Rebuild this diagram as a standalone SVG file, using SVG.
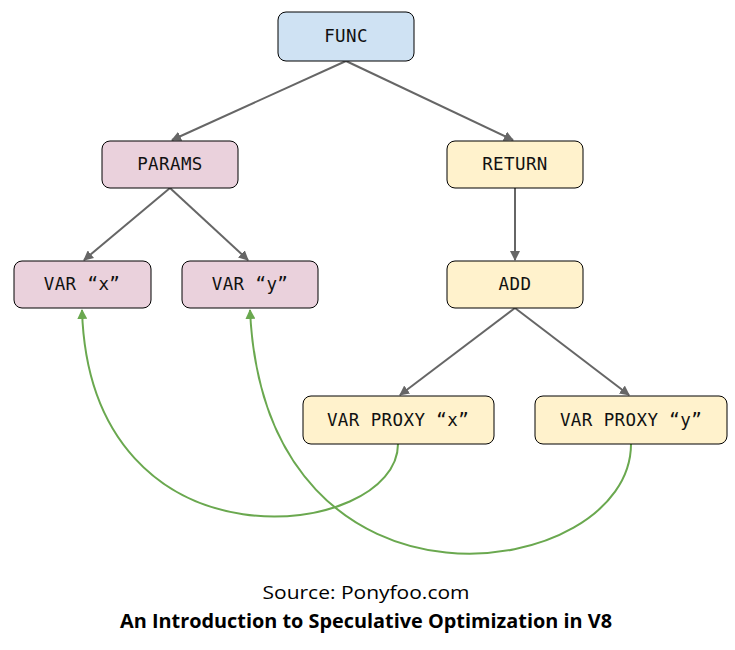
<svg xmlns="http://www.w3.org/2000/svg" width="735" height="650" viewBox="0 0 735 650">
<defs>
<marker id="ag" viewBox="0 0 10 10" refX="9" refY="5" markerWidth="5" markerHeight="5" markerUnits="strokeWidth" orient="auto"><path d="M0,0 L10,5 L0,10 z" fill="#666666"/></marker>
<marker id="agr" viewBox="0 0 10 10" refX="9" refY="5" markerWidth="5" markerHeight="5" markerUnits="strokeWidth" orient="auto"><path d="M0,0 L10,5 L0,10 z" fill="#6aa84f"/></marker>
<style>
.n{stroke:#000;stroke-width:1}
.blue{fill:#cfe2f3}.pink{fill:#ead1dc}.yel{fill:#fff2cc}
.t{font-family:"DejaVu Sans Mono","Liberation Mono",monospace;font-size:17.5px;letter-spacing:0.4px;fill:#111;text-anchor:middle}
.e{stroke:#666666;stroke-width:2;fill:none;marker-end:url(#ag)}
.g{stroke:#6aa84f;stroke-width:2;fill:none;marker-end:url(#agr)}
.cap{font-family:"Open Sans","Liberation Sans",sans-serif;font-size:19px;fill:#000;text-anchor:middle}
</style>
</defs>
<rect width="735" height="650" fill="#fff"/>
<g id="connectors">
<path class="e" d="M346,61 L172,140"/>
<path class="e" d="M346,61 L513,140"/>
<path class="e" d="M170,188 L84,260"/>
<path class="e" d="M170,188 L248,260"/>
<path class="e" d="M515,188 L515,260"/>
<path class="e" d="M515,308 L400,395"/>
<path class="e" d="M515,308 L629,395"/>
<path class="g" d="M398,444 C398,540 90,580 82,310"/>
<path class="g" d="M631,444 C631,582 265,640 250,310"/>
</g>
<g id="func"><rect class="n blue" x="278" y="12" width="136" height="49" rx="8"/><text class="t" x="346" y="42">FUNC</text></g>
<g id="params"><rect class="n pink" x="102" y="141" width="136" height="47" rx="8"/><text class="t" x="170" y="170">PARAMS</text></g>
<g id="return"><rect class="n yel" x="447" y="141" width="136" height="47" rx="8"/><text class="t" x="515" y="170">RETURN</text></g>
<g id="varx"><rect class="n pink" x="14" y="261" width="137" height="47" rx="8"/><text class="t" x="82" y="290">VAR “x”</text></g>
<g id="vary"><rect class="n pink" x="182" y="261" width="136" height="47" rx="8"/><text class="t" x="250" y="290">VAR “y”</text></g>
<g id="add"><rect class="n yel" x="447" y="261" width="136" height="47" rx="8"/><text class="t" x="515" y="290">ADD</text></g>
<g id="proxyx"><rect class="n yel" x="303" y="396" width="191" height="48" rx="8"/><text class="t" x="398" y="426">VAR PROXY “x”</text></g>
<g id="proxyy"><rect class="n yel" x="535" y="396" width="192" height="48" rx="8"/><text class="t" x="631" y="426">VAR PROXY “y”</text></g>
<g id="caption">
<text class="cap" x="366" y="599" textLength="207" lengthAdjust="spacingAndGlyphs">Source: Ponyfoo.com</text>
<text class="cap" x="366" y="628" font-weight="bold" textLength="492" lengthAdjust="spacingAndGlyphs">An Introduction to Speculative Optimization in V8</text>
</g>
</svg>
